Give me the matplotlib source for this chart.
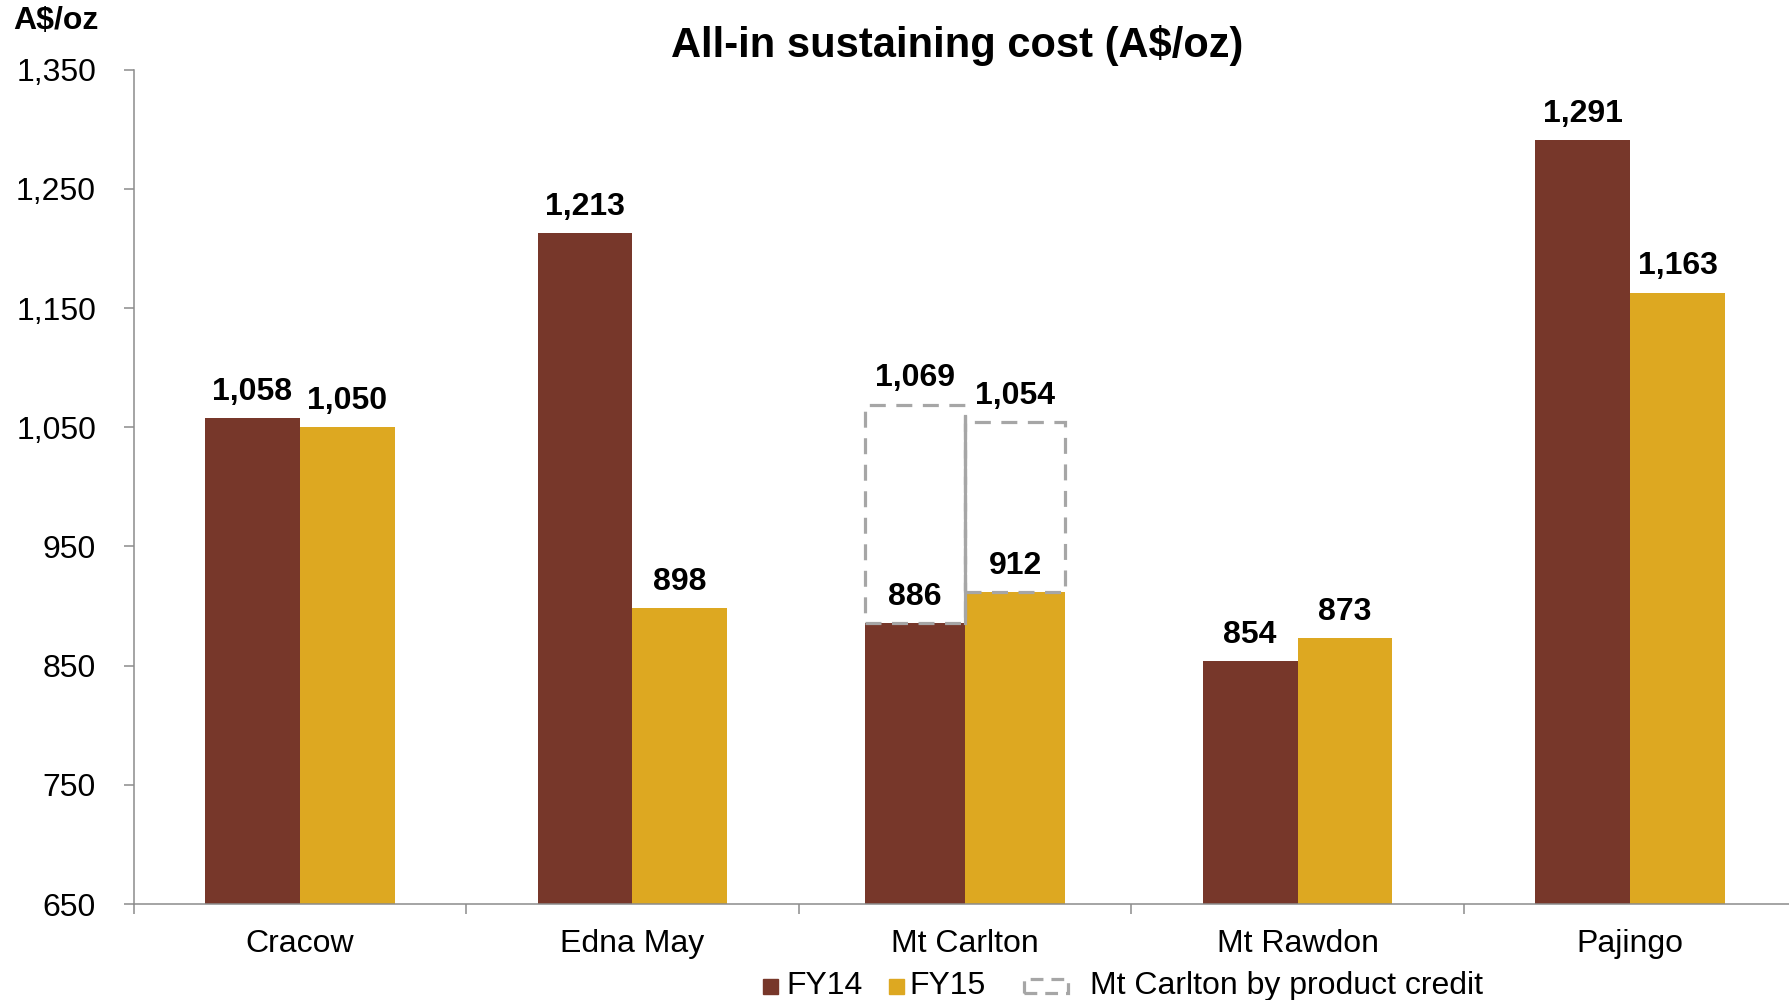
import matplotlib
matplotlib.use("Agg")
import matplotlib.pyplot as plt
from matplotlib.patches import Rectangle
import numpy as np

plt.rcParams['font.family'] = ['Liberation Sans', 'DejaVu Sans']

# -----------------------------
# Data
# -----------------------------
mines = ["Cracow", "Edna May", "Mt Carlton", "Mt Rawdon", "Pajingo"]
fy14 = [1058, 1213, 886, 854, 1291]
fy15 = [1050, 898, 912, 873, 1163]
# Mt Carlton with by product credit (FY14, FY15)
carlton_credit = [1069, 1054]
carlton_idx = mines.index("Mt Carlton")

yticks = [650, 750, 850, 950, 1050, 1150, 1250, 1350]

BROWN = "#77372A"
GOLD = "#DDA821"
GREY = "#A6A6A6"
AXIS = "#8C8C8C"
FS = 23

fig = plt.figure(figsize=(17.9, 10), dpi=100)
ax = fig.add_axes([133.6 / 1790, 0.096, 1662.8 / 1790, 0.8344])

x = np.arange(len(mines))
widths = np.array([0.302 if i == carlton_idx else 0.285 for i in range(len(mines))])

ax.bar(x - widths / 2, fy14, widths, bottom=0, color=BROWN, zorder=2)
ax.bar(x + widths / 2, fy15, widths, bottom=0, color=GOLD, zorder=2)

# dashed boxes for the by-product credit
w = widths[carlton_idx]
for k, (base, top) in enumerate(zip([fy14[carlton_idx], fy15[carlton_idx]], carlton_credit)):
    left = carlton_idx - w if k == 0 else carlton_idx
    ax.add_patch(Rectangle((left, base), w, top - base, fill=False,
                           edgecolor=GREY, lw=2.3, linestyle=(0, (5, 3.3)), zorder=3))
ax.plot([carlton_idx, carlton_idx], [fy14[carlton_idx], carlton_credit[1] + 5],
        color=GREY, lw=2.3, zorder=4)

# value labels
def label(xpos, val):
    ax.annotate(f"{val:,}", (xpos, val), xytext=(0, 8), textcoords="offset points",
                ha="center", va="bottom", fontsize=FS, fontweight="bold")

for i in range(len(mines)):
    label(x[i] - widths[i] / 2, fy14[i])
    label(x[i] + widths[i] / 2, fy15[i])
label(carlton_idx - w / 2, carlton_credit[0])
label(carlton_idx + w / 2, carlton_credit[1])

# axes styling
ax.set_ylim(650, 1350)
ax.set_xlim(-0.5, len(mines) - 0.5)
ax.set_yticks(yticks)
ax.set_yticklabels([f"{v:,}" for v in yticks])
ax.set_xticks(x)
ax.set_xticklabels(mines)
ax.set_xticks(np.arange(len(mines) + 1) - 0.5, minor=True)
ax.tick_params(axis="x", which="major", length=0, pad=18, labelsize=FS)
ax.tick_params(axis="x", which="minor", length=7, width=1.1, color=AXIS, direction="out")
ax.tick_params(axis="y", length=7, width=1.1, color=AXIS, pad=20, labelsize=FS)
for s in ["top", "right"]:
    ax.spines[s].set_visible(False)
for s in ["left", "bottom"]:
    ax.spines[s].set_color(AXIS)
    ax.spines[s].set_linewidth(1.1)

fig.text(0.535, 0.955, "All-in sustaining cost (A$/oz)", ha="center", va="center",
         fontsize=30, fontweight="bold")
fig.text(13 / 1790, 0.979, "A$/oz", ha="left", va="center", fontsize=FS, fontweight="bold")

# -----------------------------
# Legend drawn by hand
# -----------------------------
ly = 1 - 986 / 1000
sq = 15
fig.add_artist(Rectangle((763 / 1790, ly - sq / 2000), sq / 1790, sq / 1000,
                         transform=fig.transFigure, color=BROWN))
fig.text(786 / 1790, ly, "FY14", ha="left", va="center", fontsize=FS)
fig.add_artist(Rectangle((889 / 1790, ly - sq / 2000), sq / 1790, sq / 1000,
                         transform=fig.transFigure, color=GOLD))
fig.text(909 / 1790, ly, "FY15", ha="left", va="center", fontsize=FS)
fig.add_artist(Rectangle((1024 / 1790, ly - 7 / 1000), 44 / 1790, 14 / 1000,
                         transform=fig.transFigure, fill=False, edgecolor=GREY,
                         lw=2.3, linestyle=(0, (4, 2.5))))
fig.text(1090 / 1790, ly, "Mt Carlton by product credit", ha="left", va="center", fontsize=FS)

fig.savefig("out.png", dpi=100)
plt.close(fig)
